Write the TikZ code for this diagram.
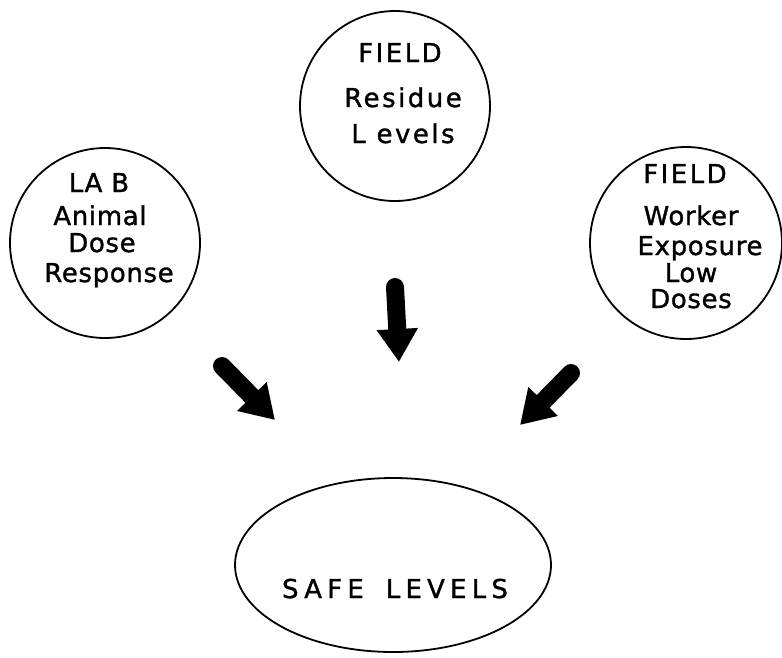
\documentclass[tikz,border=0pt]{standalone}
\usepackage{fontspec}
\setmainfont{DejaVu Sans}[LetterSpace=2.5,FakeBold=1.2]
\newfontfamily\widefont{DejaVu Sans}[LetterSpace=9.5,FakeBold=1.2]
\newfontfamily\widerfont{DejaVu Sans}[LetterSpace=20,FakeBold=1.2]
\usetikzlibrary{arrows.meta,shapes.geometric}
\begin{document}
\begin{tikzpicture}[x=1pt,y=-1pt,
  bubble/.style={draw,line width=1.8pt,circle,inner sep=0pt},
  lbl/.style={anchor=base,inner sep=0pt,font=\fontsize{26}{28}\selectfont},
  blockarrow/.style={line width=18pt,line cap=round,-{Triangle[length=33pt,width=39pt]}}]
\useasboundingbox[fill=white] (0,0) rectangle (782,657);
% circles
\node[bubble,minimum size=190pt] (lab) at (105,243) {};
\node[bubble,minimum size=190pt] (res) at (395,106) {};
\node[bubble,minimum size=192pt] (wrk) at (686,243) {};
\node[draw,line width=1.8pt,ellipse,minimum width=316pt,minimum height=174pt,inner sep=0pt] (safe) at (393,565) {};
% labels
\node[lbl] (t1) at (99,192) {LA B};
\node[lbl] (t2) at (100,225) {Animal};
\node[lbl] (t3) at (102,252) {Dose};
\node[lbl] (t4) at (109,282) {Response};
\node[lbl] (t5) at (400,62) {\widefont FIELD};
\node[lbl] (t6) at (403,107) {\widefont Residue};
\node[lbl] (t7) at (403,143) {\widefont L evels};
\node[lbl] (t8) at (685,183) {\widefont FIELD};
\node[lbl] (t9) at (691,225) {Worker};
\node[lbl] (t10) at (700,255) {Exposure};
\node[lbl] (t11) at (691,282) {Low};
\node[lbl] (t12) at (691,308) {Doses};
\node[lbl] (t13) at (395,598) {\widerfont SAFE\hspace{22pt}LEVELS};
% arrows
\coordinate (a1s) at (222,366);
\coordinate (a1e) at (275,420);
\coordinate (a2s) at (395,287);
\coordinate (a2e) at (399,362);
\coordinate (a3s) at (571,373);
\coordinate (a3e) at (520,425);
\draw[blockarrow] (a1s) -- (a1e);
\draw[blockarrow] (a2s) -- (a2e);
\draw[blockarrow] (a3s) -- (a3e);
\end{tikzpicture}
\end{document}
